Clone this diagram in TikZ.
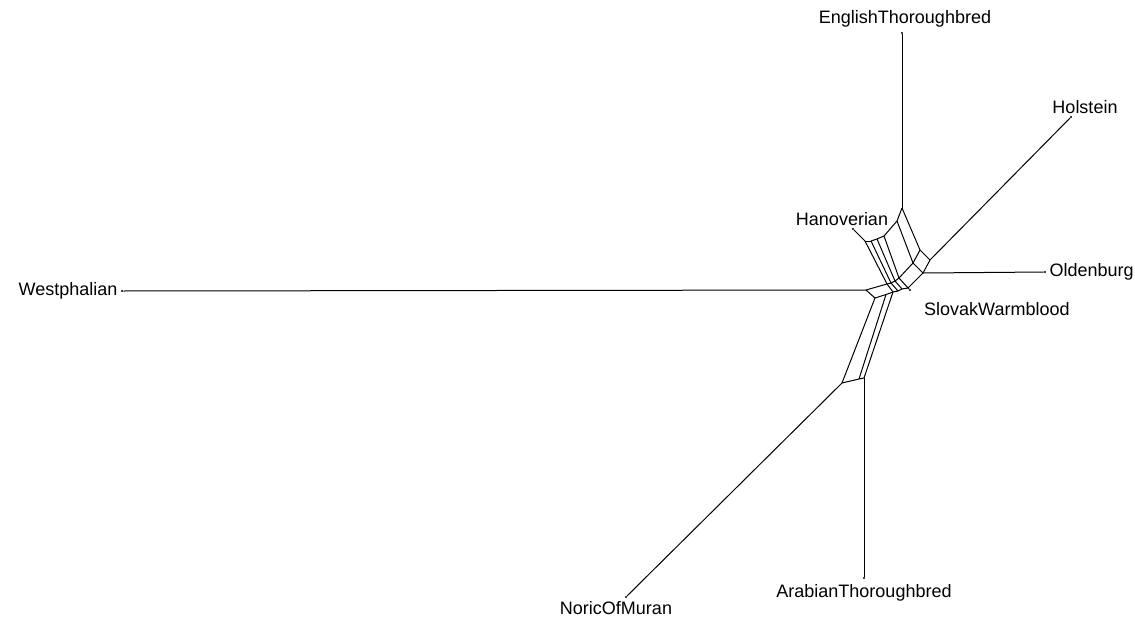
\documentclass[tikz,border=0pt]{standalone}
\usepackage{fontspec}
\setmainfont{Liberation Sans}
\usetikzlibrary{positioning}

\begin{document}
\begin{tikzpicture}[x=1pt, y=-1pt,
  edge/.style={line width=1pt},
  leaf/.style={circle, fill, inner sep=0pt, minimum size=2.4pt},
  taxon/.style={font=\fontsize{18}{20}\selectfont, inner sep=1pt}
]
\useasboundingbox (0,0) rectangle (1135,621);
% inner vertices of the network
\coordinate (e1) at (902,208);
\coordinate (u5) at (897,221);
\coordinate (u4) at (884,236);
\coordinate (u3) at (877,239);
\coordinate (u2) at (871,241);
\coordinate (h1) at (865,241);
\coordinate (q1) at (920,250);
\coordinate (v1) at (930,260);
\coordinate (o1) at (923,273);
\coordinate (l5) at (913,263);
\coordinate (l4) at (899,278);
\coordinate (l3) at (895,281);
\coordinate (l2) at (891,283);
\coordinate (l1) at (887,284);
\coordinate (w1) at (866,290);
\coordinate (s1) at (908,288);
\coordinate (m4) at (902,289);
\coordinate (m3) at (898,291);
\coordinate (m2) at (893,292);
\coordinate (k2) at (886,294.5);
\coordinate (m1) at (875,298);
\coordinate (n1) at (842,383);
\coordinate (n2) at (859,379);
\coordinate (a1) at (864,378);
% leaves
\node[leaf] (eng) at (902,33) {};
\node[leaf] (hol) at (1071,117) {};
\node[leaf] (old) at (1045,272) {};
\node[leaf] (slo) at (910,290) {};
\node[leaf] (ara) at (864,578) {};
\node[leaf] (nor) at (626,597) {};
\node[leaf] (wes) at (122,291) {};
\node[leaf] (han) at (853,229) {};
% splits
\foreach \a/\b in {h1/u2, u2/u3, u3/u4, u4/u5, u5/e1,
    h1/l1, u2/l2, u3/l3, u4/l4, u5/l5, e1/q1,
    q1/v1, v1/o1, q1/l5, l5/o1, l5/l4, o1/s1, l4/s1,
    w1/l1, l1/l2, l2/l3, l3/l4,
    w1/m1, l1/m2, l2/m3, l3/m4,
    m1/k2, k2/m2, m2/m3, m3/m4, m4/s1,
    m1/n1, k2/n2, m2/a1, n1/n2, n2/a1}
  \draw[edge] (\a) -- (\b);
% pendant edges
\draw[edge] (e1) -- (eng);
\draw[edge] (v1) -- (hol);
\draw[edge] (o1) -- (old);
\draw[edge] (s1) -- (slo);
\draw[edge] (a1) -- (ara);
\draw[edge] (n1) -- (nor);
\draw[edge] (w1) -- (wes);
\draw[edge] (h1) -- (han);
% taxon labels
\node[taxon, above=3pt of eng, xshift=3pt] {EnglishThoroughbred};
\node[taxon, above=1pt of hol, xshift=14pt] {Holstein};
\node[taxon, right=2pt of old] {Oldenburg};
\node[taxon, below right=10pt and 12pt of slo] {SlovakWarmblood};
\node[taxon, below=4pt of ara] {ArabianThoroughbred};
\node[taxon, below=2pt of nor, xshift=-10pt] {NoricOfMuran};
\node[taxon, left=2pt of wes] {Westphalian};
\node[taxon, above=1pt of han, xshift=-11pt] {Hanoverian};
\end{tikzpicture}
\end{document}
